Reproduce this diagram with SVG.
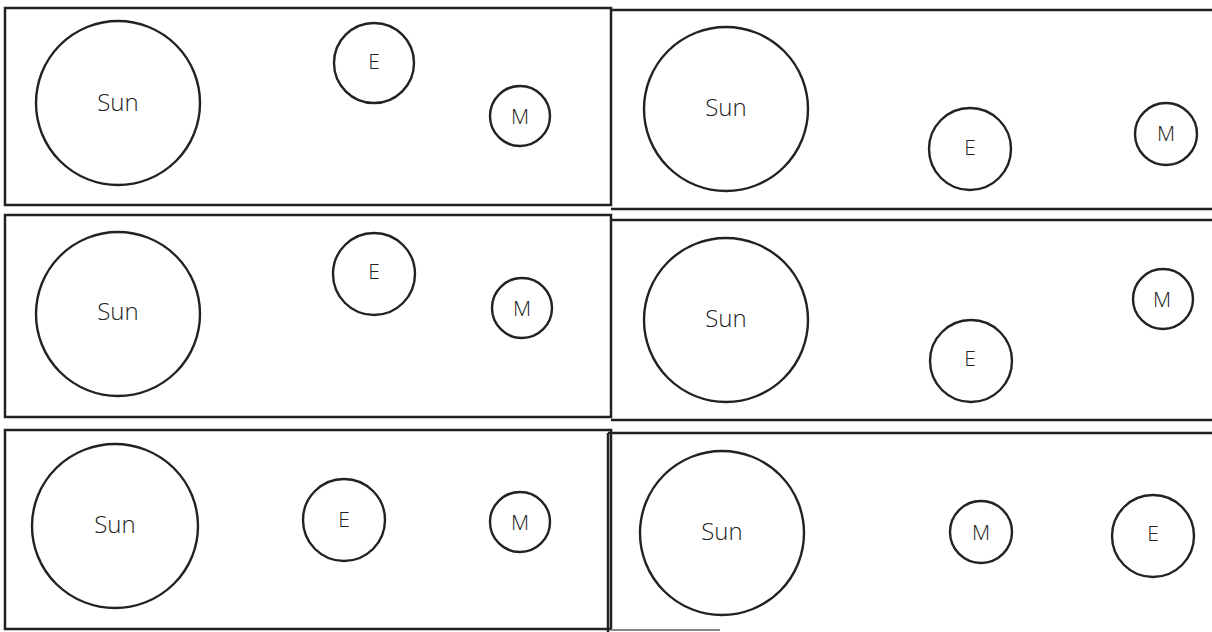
<svg xmlns="http://www.w3.org/2000/svg" width="1212" height="632" viewBox="0 0 1212 632">
<style>
.frame{fill:none;stroke:#222;stroke-width:2.5}
.body{fill:#fff;stroke:#222;stroke-width:2.4}
.lbl{font-family:"Open Sans","Liberation Sans",sans-serif;font-weight:300;fill:#222;text-anchor:middle;dominant-baseline:central}
.sun{font-size:24px}
.sm{font-size:21px}
</style>
<rect width="1212" height="632" fill="#fff"/>
<g id="frames">
<path class="frame" d="M5,8 H611 V205 H5 Z"/>
<path class="frame" d="M611,10 H1212 M611,209 H1212"/>
<path class="frame" d="M5,215 H611 V417 H5 Z"/>
<path class="frame" d="M611,220 H1212 M611,420 H1212"/>
<path class="frame" d="M5,430 H611 V629 H5 Z"/>
<path class="frame" d="M608,433 H1212 M608,433 V632"/>
<path d="M611,630 H720" fill="none" stroke="#888" stroke-width="2"/>
</g>
<g id="p1">
<g id="p1-sun"><ellipse class="body" cx="118" cy="103" rx="82" ry="82"/><text class="lbl sun" x="118" y="101">Sun</text></g>
<g id="p1-e"><circle class="body" cx="374" cy="63" r="40"/><text class="lbl sm" x="374" y="61">E</text></g>
<g id="p1-m"><circle class="body" cx="520" cy="116" r="30"/><text class="lbl sm" x="520" y="116">M</text></g>
</g>
<g id="p2">
<g id="p2-sun"><ellipse class="body" cx="726" cy="109" rx="82" ry="82"/><text class="lbl sun" x="726" y="106">Sun</text></g>
<g id="p2-e"><circle class="body" cx="970" cy="149" r="41"/><text class="lbl sm" x="970" y="147">E</text></g>
<g id="p2-m"><circle class="body" cx="1166" cy="134" r="31"/><text class="lbl sm" x="1166" y="133">M</text></g>
</g>
<g id="p3">
<g id="p3-sun"><ellipse class="body" cx="118" cy="314" rx="82" ry="82"/><text class="lbl sun" x="118" y="310">Sun</text></g>
<g id="p3-e"><circle class="body" cx="374" cy="274" r="41"/><text class="lbl sm" x="374" y="271">E</text></g>
<g id="p3-m"><circle class="body" cx="522" cy="308" r="30"/><text class="lbl sm" x="522" y="308">M</text></g>
</g>
<g id="p4">
<g id="p4-sun"><ellipse class="body" cx="726" cy="320" rx="82" ry="82"/><text class="lbl sun" x="726" y="317">Sun</text></g>
<g id="p4-e"><circle class="body" cx="971" cy="361" r="41"/><text class="lbl sm" x="970" y="358">E</text></g>
<g id="p4-m"><circle class="body" cx="1163" cy="299" r="30"/><text class="lbl sm" x="1162" y="299">M</text></g>
</g>
<g id="p5">
<g id="p5-sun"><ellipse class="body" cx="115" cy="526" rx="83" ry="82"/><text class="lbl sun" x="115" y="523">Sun</text></g>
<g id="p5-e"><circle class="body" cx="344" cy="520" r="41"/><text class="lbl sm" x="344" y="519">E</text></g>
<g id="p5-m"><circle class="body" cx="520" cy="522" r="30"/><text class="lbl sm" x="520" y="522">M</text></g>
</g>
<g id="p6">
<g id="p6-sun"><ellipse class="body" cx="722" cy="533" rx="82" ry="82"/><text class="lbl sun" x="722" y="530">Sun</text></g>
<g id="p6-m"><circle class="body" cx="981" cy="532" r="31"/><text class="lbl sm" x="981" y="532">M</text></g>
<g id="p6-e"><circle class="body" cx="1153" cy="536" r="41"/><text class="lbl sm" x="1153" y="533">E</text></g>
</g>
<g id="connectors"/>
</svg>
